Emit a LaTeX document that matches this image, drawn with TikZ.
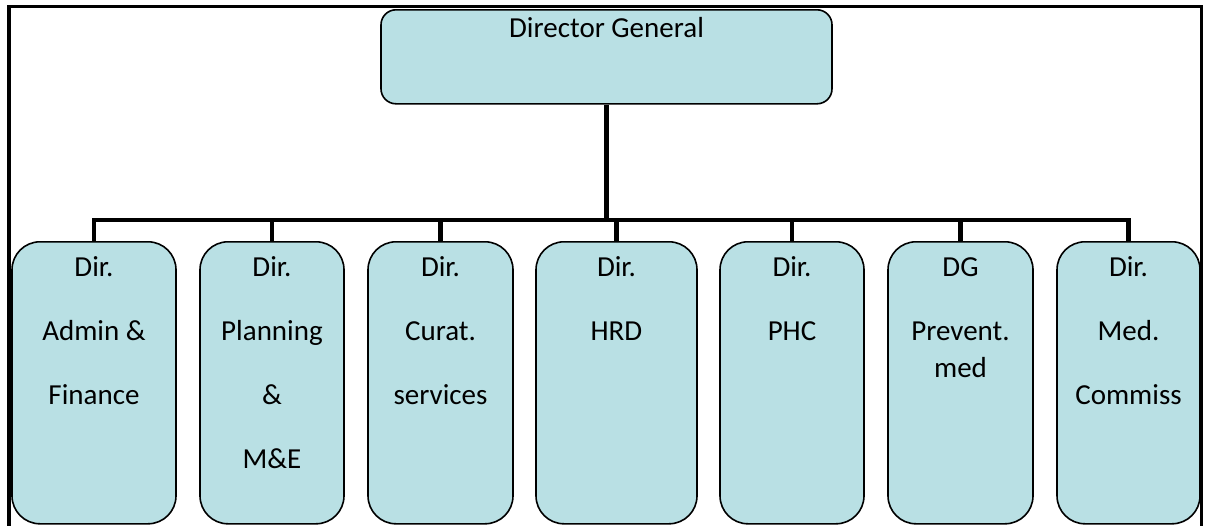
\documentclass[tikz,border=0pt]{standalone}
\usepackage{fontspec}
\setmainfont{Carlito}
\usepackage{xcolor}
\usepackage{tikz}
\definecolor{boxblue}{RGB}{185,224,228}
\newcommand{\unitlabel}[2]{\parbox[t][282pt][t]{#1}{\centering\rule{0pt}{35pt}#2}}
\tikzset{
  unitbox/.style={draw=black, fill=boxblue, line width=1.6pt, rounded corners=28pt,
    inner sep=0pt, anchor=north, font=\fontsize{29}{64}\selectfont},
  dgbox/.style={unitbox, rounded corners=15pt},
  link/.style={line width=4.5pt},
  frame/.style={line width=3.5pt}
}

\begin{document}
\begin{tikzpicture}[x=1pt,y=-1pt]
\useasboundingbox (0,0) rectangle (1206,525);
\def\boxtop{241};
\coordinate (bus) at (0,220);
\draw[frame] (9,526) -- (9,6.5) -- (1201.5,6.5) -- (1201.5,526); %outer frame%

\node[dgbox] (dg) at (606.5,9) {\parbox[t][94pt][t]{451pt}{\centering\rule{0pt}{28pt}Director General}};

% directorates
\node[unitbox] (admin) at (94,\boxtop) {\unitlabel{164pt}{Dir.\\Admin \&\\Finance}};
\node[unitbox] (plan) at (272,\boxtop) {\unitlabel{144pt}{Dir.\\Planning\\\&\\M\&E}};
\node[unitbox] (curat) at (440.5,\boxtop) {\unitlabel{145pt}{Dir.\\Curat.\\services}};
\node[unitbox] (hrd) at (616.5,\boxtop) {\unitlabel{161pt}{Dir.\\HRD}};
\node[unitbox] (phc) at (792,\boxtop) {\unitlabel{144pt}{Dir.\\PHC}};
\node[unitbox] (prev) at (960.5,\boxtop) {\unitlabel{145pt}{DG\\Prevent.\\[-27pt]med}};
\node[unitbox] (med) at (1128.5,\boxtop) {\unitlabel{143pt}{Dir.\\Med.\\Commiss}};

% connectors
\draw[link] (dg.south) -- (dg.south |- bus);
\draw[link] (admin.north) |- (bus -| med.north) -- (med.north);
\draw[link] (plan.north) -- (plan.north |- bus);
\draw[link] (curat.north) -- (curat.north |- bus);
\draw[link] (hrd.north) -- (hrd.north |- bus);
\draw[link] (phc.north) -- (phc.north |- bus);
\draw[link] (prev.north) -- (prev.north |- bus);
\end{tikzpicture}
\end{document}
